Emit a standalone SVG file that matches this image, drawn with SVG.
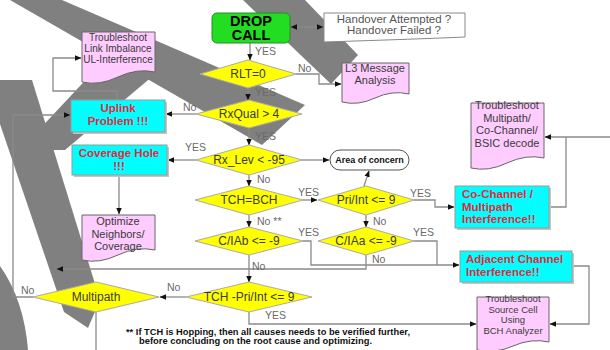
<svg xmlns="http://www.w3.org/2000/svg" width="610" height="350" viewBox="0 0 610 350">
<defs>
<marker id="ah" markerWidth="7" markerHeight="7" refX="6" refY="3.5" orient="auto-start-reverse" markerUnits="userSpaceOnUse"><path d="M0,0.8 L6.5,3.5 L0,6.2 Z" fill="#111"/></marker>
</defs>
<style>
.band{fill:#808080}
.ln{fill:none;stroke:#8a8a8a;stroke-width:1.3}
.dia{fill:#ffff00;stroke:#aaaaaa;stroke-width:1}
.doc{fill:#ffccff;stroke:#666;stroke-width:1}
.cy{fill:#00ffff;stroke:#999;stroke-width:1}
.sh{fill:#c4c4c4}
.t{font-family:"Liberation Sans",Arial,sans-serif;fill:#3a3a3a;font-size:12px}
.c{text-anchor:middle}
.lab{font-family:"Liberation Sans",Arial,sans-serif;fill:#6a6a6a;font-size:10.5px}
.red{font-family:"Liberation Sans",Arial,sans-serif;fill:#e8283c;font-weight:bold;font-size:11.5px}
.fn{font-family:"Liberation Sans",Arial,sans-serif;fill:#111;font-weight:bold;font-size:8.5px}
</style>
<rect width="610" height="350" fill="#ffffff"/>
<g id="bands">
<polygon class="band" points="10,0 62,0 305,105 262,145"/>
<polygon class="band" points="243,0 305,0 358,55 331,84"/>
<polygon class="band" points="95,70 160,70 65,150 20,150"/>
<polygon class="band" points="-15,80 32,80 100,300 88,328 64,312"/>
<path class="band" d="M0,266 Q24,300 28,350 L0,350 Z"/>
</g>
<g id="connectors">
<path class="ln" d="M291,27 H323" marker-start="url(#ah)" marker-end="url(#ah)"/>
<path class="ln" d="M250,43 V60" marker-end="url(#ah)"/>
<path class="ln" d="M296,74 H319 V84 H341" marker-end="url(#ah)"/>
<path class="ln" d="M248,88 V100" marker-end="url(#ah)"/>
<path class="ln" d="M196,114 H166" marker-end="url(#ah)"/>
<path class="ln" d="M117,100 V91 H53 V58 H81" marker-end="url(#ah)"/>
<path class="ln" d="M33,297 H13 V115 H70" marker-end="url(#ah)"/>
<path class="ln" d="M249,128 V145" marker-end="url(#ah)"/>
<path class="ln" d="M196,160 H168" marker-end="url(#ah)"/>
<path class="ln" d="M119,175 V214" marker-end="url(#ah)"/>
<path class="ln" d="M302,160 H329" marker-end="url(#ah)"/>
<path class="ln" d="M249,175 V186" marker-end="url(#ah)"/>
<path class="ln" d="M303,200 H317" marker-end="url(#ah)"/>
<path class="ln" d="M364,186 L369,171" marker-end="url(#ah)"/>
<path class="ln" d="M414,200 H435 V207 H454" marker-end="url(#ah)"/>
<path class="ln" d="M549,207 H566 V137"/>
<path class="ln" d="M610,137 H545" marker-end="url(#ah)"/>
<path class="ln" d="M249,215 V227" marker-end="url(#ah)"/>
<path class="ln" d="M366,215 V227" marker-end="url(#ah)"/>
<path class="ln" d="M303,241 H311 V265 H459" marker-end="url(#ah)"/>
<path class="ln" d="M414,241 H437 V265"/>
<path class="ln" d="M366,255 V269 H57" marker-end="url(#ah)"/>
<path class="ln" d="M249,255 V282" marker-end="url(#ah)"/>
<path class="ln" d="M186,297 H160" marker-end="url(#ah)"/>
<path class="ln" d="M96,312 V350"/>
<path class="ln" d="M249,312 V324 H476" marker-end="url(#ah)"/>
<path class="ln" d="M572,266 H589 V324 H550" marker-end="url(#ah)"/>
<text class="lab" x="255" y="55">YES</text>
<text class="lab" x="298" y="72">No</text>
<text class="lab" x="255" y="96">YES</text>
<text class="lab" x="183" y="111">No</text>
<text class="lab" x="255" y="140">YES</text>
<text class="lab" x="185" y="151">YES</text>
<text class="lab" x="257" y="183">No</text>
<text class="lab" x="298" y="196">YES</text>
<text class="lab" x="410" y="197">YES</text>
<text class="lab" x="257" y="225">No **</text>
<text class="lab" x="373" y="225">No</text>
<text class="lab" x="298" y="236">YES</text>
<text class="lab" x="413" y="236">YES</text>
<text class="lab" x="372" y="263">No</text>
<text class="lab" x="252" y="270">No</text>
<text class="lab" x="167" y="291">No</text>
<text class="lab" x="21" y="294">No</text>
<text class="lab" x="265" y="319">YES</text>
</g>
<g id="drop-call">
<rect x="212" y="13" width="78" height="30" rx="5" fill="#22dd22" stroke="#2a8a2a" stroke-width="1"/>
<text x="251" y="25.5" text-anchor="middle" font-family="'Liberation Sans',Arial,sans-serif" font-weight="bold" font-size="14.5" fill="#000">DROP</text>
<text x="251" y="40" text-anchor="middle" font-family="'Liberation Sans',Arial,sans-serif" font-weight="bold" font-size="14.5" fill="#000">CALL</text>
</g>
<g id="handover">
<path d="M324,13 H465 V37 Q420,39 324,42 Z" fill="#fff" stroke="#888" stroke-width="1"/>
<text class="t c" x="394" y="23" style="fill:#555;font-size:11.5px">Handover Attempted ?</text>
<text class="t c" x="394" y="34" style="fill:#555;font-size:11.5px">Handover Failed ?</text>
</g>
<g id="rlt">
<polygon class="dia" points="200,74 248,60 296,74 248,88"/>
<text class="t c" x="248" y="78">RLT=0</text>
</g>
<g id="l3">
<path class="doc" d="M342,63 H409 V94 Q392,90 375,98 T342,102 Z"/>
<text class="t c" x="375" y="72" style="font-size:11px">L3 Message</text>
<text class="t c" x="375" y="84" style="font-size:11px">Analysis</text>
</g>
<g id="link">
<path class="doc" d="M82,32 H155 V72 Q137,68 118,77 T82,82 Z"/>
<text class="t c" x="118" y="41" style="font-size:10px">Troubleshoot</text>
<text class="t c" x="118" y="52" style="font-size:10px">Link Imbalance</text>
<text class="t c" x="118" y="63" style="font-size:10px">UL-Interference</text>
</g>
<g id="rxqual">
<polygon class="dia" points="196,114 249,100 302,114 249,128"/>
<text class="t c" x="249" y="118">RxQual &gt; 4</text>
</g>
<g id="uplink">
<rect class="sh" x="73" y="102" width="94" height="32"/>
<rect class="cy" x="71" y="100" width="94" height="32"/>
<text class="red c" x="118" y="112">Uplink</text>
<text class="red c" x="118" y="125">Problem !!!</text>
</g>
<g id="rxlev">
<polygon class="dia" points="196,160 249,145 302,160 249,175"/>
<text class="t c" x="249" y="164">Rx_Lev &lt; -95</text>
</g>
<g id="coverage">
<rect class="sh" x="74" y="147" width="95" height="30"/>
<rect class="cy" x="72" y="145" width="95" height="30"/>
<text class="red c" x="119" y="157">Coverage Hole</text>
<text class="red c" x="119" y="170">!!!</text>
</g>
<g id="area">
<rect x="330" y="150" width="79" height="20" rx="10" fill="#fff" stroke="#555" stroke-width="1"/>
<text x="369.5" y="163" text-anchor="middle" font-family="'Liberation Sans',Arial,sans-serif" font-weight="bold" font-size="9" fill="#111">Area of concern</text>
</g>
<g id="optimize">
<path class="doc" d="M82,215 H155 V250 Q137,246 118,255 T82,260 Z"/>
<text class="t c" x="118" y="225" style="font-size:11px">Optimize</text>
<text class="t c" x="118" y="237.5" style="font-size:11px">Neighbors/</text>
<text class="t c" x="118" y="250" style="font-size:11px">Coverage</text>
</g>
<g id="tch-bch">
<polygon class="dia" points="195,200 249,186 303,200 249,215"/>
<text class="t c" x="249" y="204">TCH=BCH</text>
</g>
<g id="pri-int">
<polygon class="dia" points="318,200 366,186 414,200 366,215"/>
<text class="t c" x="366" y="204">Pri/Int &lt;= 9</text>
</g>
<g id="ts-multipath">
<path class="doc" d="M471,103 H544 V158 Q526,154 507,163 T471,168 Z"/>
<text class="t c" x="507" y="109" style="font-size:11px">Troubleshoot</text>
<text class="t c" x="507" y="121.5" style="font-size:11px">Multipath/</text>
<text class="t c" x="507" y="134" style="font-size:11px">Co-Channel/</text>
<text class="t c" x="507" y="146.5" style="font-size:11px">BSIC decode</text>
</g>
<g id="co-channel">
<rect class="sh" x="457" y="188" width="94" height="42"/>
<rect class="cy" x="455" y="186" width="94" height="42"/>
<text class="red" x="462" y="198">Co-Channel /</text>
<text class="red" x="462" y="210.5">Multipath</text>
<text class="red" x="462" y="223">Interference!!</text>
</g>
<g id="ciab">
<polygon class="dia" points="195,241 249,227 303,241 249,255"/>
<text class="t c" x="249" y="245">C/IAb &lt;= -9</text>
</g>
<g id="ciaa">
<polygon class="dia" points="318,241 366,227 414,241 366,255"/>
<text class="t c" x="366" y="245">C/IAa &lt;= -9</text>
</g>
<g id="adjacent">
<rect class="sh" x="462" y="253" width="112" height="31"/>
<rect class="cy" x="460" y="251" width="112" height="31"/>
<text class="red" x="466" y="263">Adjacent Channel</text>
<text class="red" x="466" y="276">Interference!!</text>
</g>
<g id="tch-pri">
<polygon class="dia" points="186,297 249,282 312,297 249,312"/>
<text class="t c" x="249" y="301">TCH -Pri/Int &lt;= 9</text>
</g>
<g id="multipath">
<polygon class="dia" points="33,297 96,282 159,297 96,312"/>
<text class="t c" x="96" y="301">Multipath</text>
</g>
<g id="ts-source">
<path class="doc" d="M477,297 H549 V342 Q531,338 513,346 T477,350 Z"/>
<text class="t c" x="513" y="302" style="font-size:9.5px">Troubleshoot</text>
<text class="t c" x="513" y="312.5" style="font-size:9.5px">Source Cell</text>
<text class="t c" x="513" y="323" style="font-size:9.5px">Using</text>
<text class="t c" x="513" y="333.5" style="font-size:9.5px">BCH Analyzer</text>
</g>
<g id="footnote">
<text class="fn" x="126" y="335" textLength="284" lengthAdjust="spacingAndGlyphs">** If TCH is Hopping, then all causes needs to be verified further,</text>
<text class="fn" x="139" y="344" textLength="233" lengthAdjust="spacingAndGlyphs">before concluding on the root cause and optimizing.</text>
</g>
</svg>
